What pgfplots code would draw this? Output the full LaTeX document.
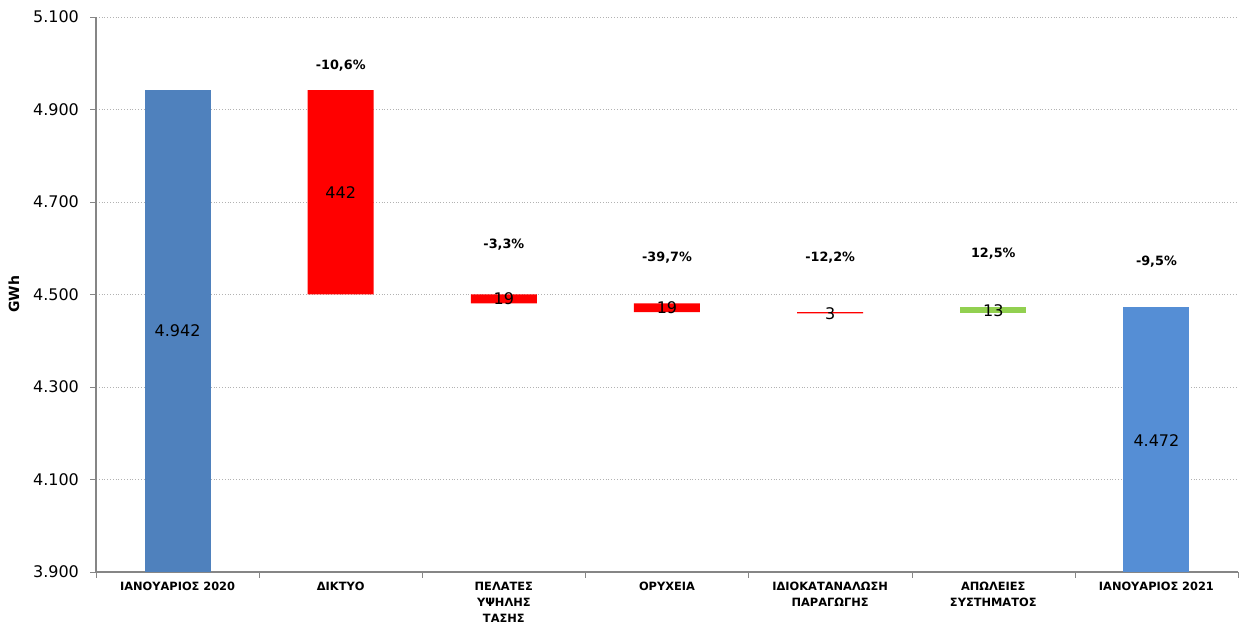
\documentclass[border=0pt]{standalone}
\usepackage{fontspec}
\setmainfont{DejaVu Sans}
\usepackage{pgfplots}
\pgfplotsset{compat=1.18}

\definecolor{blueA}{HTML}{4F81BD}
\definecolor{blueB}{HTML}{558ED5}
\definecolor{redbar}{HTML}{FF0000}
\definecolor{greenbar}{HTML}{92D050}
\definecolor{axisgray}{HTML}{868686}

\tikzset{
  val/.style={font=\fontsize{8}{10}\selectfont},
  pct/.style={font=\bfseries\fontsize{6.4}{8}\selectfont},
}

\begin{document}
\begin{tikzpicture}
\useasboundingbox (0,0) rectangle (621.5pt,312.5pt);
\begin{axis}[
    at={(48pt,26.5pt)}, anchor=south west,
    scale only axis,
    width=571pt, height=277.5pt,
    ybar stacked,
    reverse stacked plots=false,
    bar width=33pt,
    xmin=-0.5, xmax=6.5,
    ymin=3900, ymax=5100,
    ytick={3900,4100,...,5100},
    xtick={0,...,6},
    xticklabels={ΙΑΝΟΥΑΡΙΟΣ 2020, ΔΙΚΤΥΟ, ΠΕΛΑΤΕΣ\\ΥΨΗΛΗΣ\\ΤΑΣΗΣ, ΟΡΥΧΕΙΑ, ΙΔΙΟΚΑΤΑΝΑΛΩΣΗ\\ΠΑΡΑΓΩΓΗΣ, ΑΠΩΛΕΙΕΣ\\ΣΥΣΤΗΜΑΤΟΣ, ΙΑΝΟΥΑΡΙΟΣ 2021},
    x tick label style={font=\bfseries\fontsize{5.7}{8}\selectfont, align=center, text width=90pt, yshift=1.5pt},
    major x tick style={draw=none},
    minor xtick={-0.5,0.5,1.5,2.5,3.5,4.5,5.5,6.5},
    minor tick length=3pt,
    minor x tick style={draw=axisgray},
    y tick label style={font=\fontsize{8}{10}\selectfont, xshift=-2pt, /pgf/number format/1000 sep={.}, /pgf/number format/fixed, /pgf/number format/assume math mode=true},
    ylabel={\bfseries GWh},
    ylabel style={font=\fontsize{7}{8}\selectfont},
    tick align=outside,
    major tick length=3pt,
    tick style={axisgray},
    ymajorgrids,
    grid style={densely dotted, gray!60},
    axis x line*=bottom,
    axis y line*=left,
    axis line style={axisgray, line width=0.6pt},
]
% invisible base of each bar
\addplot[draw=none, fill=none] coordinates {(0,0) (1,4500) (2,4481) (3,4462) (4,4459) (5,4459) (6,0)};
% first month
\addplot[draw=none, fill=blueA] coordinates {(0,4942) (1,0) (2,0) (3,0) (4,0) (5,0) (6,0)};
% decreases
\addplot[draw=none, fill=redbar] coordinates {(0,0) (1,442) (2,19) (3,19) (4,3) (5,0) (6,0)};
% increase
\addplot[draw=none, fill=greenbar] coordinates {(0,0) (1,0) (2,0) (3,0) (4,0) (5,13) (6,0)};
% second month
\addplot[draw=none, fill=blueB] coordinates {(0,0) (1,0) (2,0) (3,0) (4,0) (5,0) (6,4472)};

\node[val] at (axis cs:0,4421) {4.942};
\node[val] at (axis cs:1,4721) {442};
\node[val] at (axis cs:2,4490) {19};
\node[val] at (axis cs:3,4471) {19};
\node[val] at (axis cs:4,4459) {3};
\node[val] at (axis cs:5,4464) {13};
\node[val] at (axis cs:6,4185) {4.472};
\node[pct] at (axis cs:1,4994) {-10,6\%};
\node[pct] at (axis cs:2,4607) {-3,3\%};
\node[pct] at (axis cs:3,4579) {-39,7\%};
\node[pct] at (axis cs:4,4579) {-12,2\%};
\node[pct] at (axis cs:5,4588) {12,5\%};
\node[pct] at (axis cs:6,4570) {-9,5\%};
\end{axis}
\end{tikzpicture}
\end{document}
